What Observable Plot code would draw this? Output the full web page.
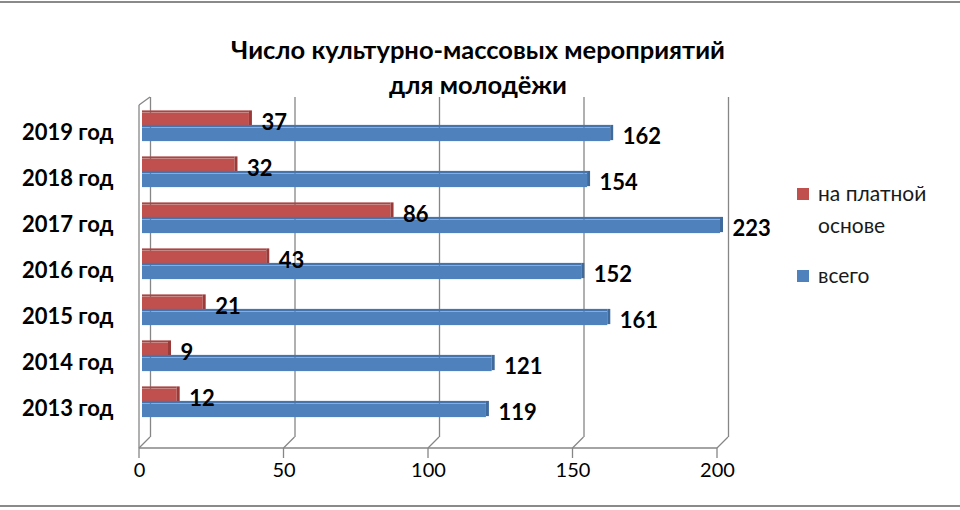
<!DOCTYPE html>
<html><head><meta charset="utf-8">
<script src="https://cdn.jsdelivr.net/npm/d3@7"></script>
<script src="https://cdn.jsdelivr.net/npm/@observablehq/plot@0.6"></script>
<style>
body{margin:0;background:#fff;}
#wrap{position:relative;width:960px;height:510px;overflow:hidden;font-family:Lato,"Open Sans",sans-serif;color:#000;}
#frame{position:absolute;left:-10px;right:-10px;top:1px;height:502px;border-top:2px solid #8a8a8a;border-bottom:2px solid #8a8a8a;pointer-events:none;}
#title{position:absolute;left:0;width:956px;top:32px;text-align:center;font-weight:bold;font-size:25.5px;line-height:35px;}
.leg{position:absolute;left:797px;font-size:21px;line-height:32px;color:#1a1a1a;}
.leg .sw{position:absolute;left:0;width:12px;height:12px;}
.leg .tx{position:absolute;left:21px;white-space:nowrap;}
#chart{position:absolute;left:0;top:0;}
</style>
</head><body>
<div id="wrap">
  <div id="chart"></div>
  <div id="title">Число культурно-массовых мероприятий<br>для молодёжи</div>
  <div id="legend"></div>
  <div id="frame"></div>
</div>
<script>
const years = ["2013 год","2014 год","2015 год","2016 год","2017 год","2018 год","2019 год"];
const paid  = [12, 9, 21, 43, 86, 32, 37];
const total = [119, 121, 161, 152, 223, 154, 162];
const xTicks = [0, 50, 100, 150, 200];
const seriesNames = ["на платной\nоснове", "всего"];
const seriesColors = ["#C0504D", "#4F81BD"];
const seriesSide = ["#9A3B39", "#3F6A9E"];
const seriesTop = ["#A94543", "#4574AE"];

const data = years.map((y, i) => ({year: y, paid: paid[i], total: total[i]}));

const W = 960, H = 510, mL = 142, mR = 240, mT = 101, mB = 81.5;
const band = (H - mT - mB) / years.length;
const barH = 14.5;
const grid = "#868686";

function wall(index, scales, values, dim) {
  const x = scales.x;
  const yBot = dim.height - dim.marginBottom;
  const back = yBot + 8.5, front = back + 11;
  const g = d3.create("svg:g").attr("stroke", grid).attr("stroke-width", 1.3).attr("fill", "none");
  const x0 = x(xTicks[0]);
  g.append("line").attr("x1", x0 - 3).attr("x2", x0 - 3).attr("y1", dim.marginTop + 4).attr("y2", front);
  g.append("line").attr("x1", x0 - 3).attr("x2", x0 + 8).attr("y1", dim.marginTop + 4).attr("y2", dim.marginTop - 4);
  g.append("line").attr("x1", x0 - 3).attr("x2", x(xTicks[xTicks.length - 1]) - 3).attr("y1", front).attr("y2", front);
  for (const v of xTicks) {
    const p = x(v);
    g.append("line").attr("x1", p + 8).attr("x2", p - 3).attr("y1", back).attr("y2", front);
    g.append("line").attr("x1", p - 3).attr("x2", p - 3).attr("y1", front).attr("y2", front + 10);
  }
  return g.node();
}

function bars(key, k, top) {
  const iT = top ? band/2 - barH : band/2;
  const iB = top ? band/2 : band/2 - barH;
  return [
    Plot.barX(data, {y: "year", x1: 0, x2: key, fill: seriesTop[k], insetTop: iT - 2.5, insetBottom: band - iT - 0.5}),
    Plot.barX(data, {y: "year", x1: 0, x2: key, fill: seriesColors[k], insetTop: iT, insetBottom: iB}),
    Plot.barX(data, {y: "year", x1: key, x2: key, fill: seriesSide[k], insetTop: iT - 2.5, insetBottom: iB + 1, insetRight: -3})
  ];
}

const chart = Plot.plot({
  width: W, height: H,
  marginLeft: mL, marginRight: mR, marginTop: mT, marginBottom: mB,
  style: {fontFamily: "Lato, 'Open Sans', sans-serif", background: "transparent", color: "#000", overflow: "visible"},
  x: {domain: [0, 200], clamp: true, label: null},
  y: {domain: years.slice().reverse(), padding: 0, label: null},
  marks: [
    Plot.ruleX(xTicks, {dx: 8, stroke: grid, strokeWidth: 1.3, insetTop: -4, insetBottom: -8.5}),
    wall,
    ...bars("paid", 0, true),
    ...bars("total", 1, false),
    Plot.text(data, {y: "year", x: "paid", text: "paid", dx: 12, dy: -5, textAnchor: "start", fontSize: 22, fontWeight: "bold", fill: "#000"}),
    Plot.text(data, {y: "year", x: "total", text: "total", dx: 12, dy: 9, textAnchor: "start", fontSize: 22, fontWeight: "bold", fill: "#000"}),
    Plot.axisX(xTicks, {tickSize: 0, tickPadding: 34, dx: -3, fontSize: 20, fill: "#000", label: null}),
    Plot.axisY({tickSize: 0, tickPadding: 29, dy: 5, fontSize: 22, fontWeight: "bold", fill: "#000", label: null})
  ]
});
document.getElementById("chart").appendChild(chart);

const leg = document.getElementById("legend");
const legTops = [177, 259];
seriesNames.forEach((name, i) => {
  const d = document.createElement("div");
  d.className = "leg";
  d.style.top = legTops[i] + "px";
  const sw = document.createElement("div");
  sw.className = "sw"; sw.style.background = seriesColors[i]; sw.style.top = "11px";
  const tx = document.createElement("div");
  tx.className = "tx"; tx.innerHTML = name.replace("\n", "<br>");
  d.appendChild(sw); d.appendChild(tx);
  leg.appendChild(d);
});
</script>
</body></html>
